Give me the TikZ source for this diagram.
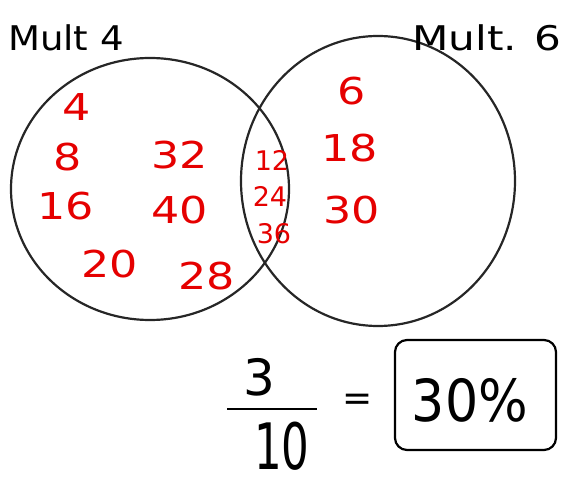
\documentclass[tikz,border=0pt]{standalone}
\usepackage{fontspec}
\setmainfont{DejaVu Sans}
\begin{document}
\begin{tikzpicture}[x=1pt,y=-1pt,
  ring/.style={draw=black!85, line width=2.2pt},
  redno/.style={text=red!90!black, font=\fontsize{37}{37}\selectfont\addfontfeature{FakeStretch=1.2}},
  smallno/.style={text=red!90!black, font=\fontsize{27}{27}\selectfont},
  lbl/.style={text=black, font=\fontsize{34}{34}\selectfont},
  big/.style={text=black, font=\fontsize{50}{50}\selectfont}]
\useasboundingbox (0,0) rectangle (566,484);
% circles
\draw[ring] (150,189) ellipse [x radius=139, y radius=131];
\draw[ring] (378,181) ellipse [x radius=137, y radius=145];
% labels
\node[lbl, font=\fontsize{34}{34}\selectfont\addfontfeature{FakeStretch=1.09}] (m4) at (66,38) {Mult 4};
\node[lbl, font=\fontsize{34}{34}\selectfont\addfontfeature{FakeStretch=1.24}] (m6) at (487,38) {Mult. 6};
% left only
\node[redno] (n4) at (77,107) {4};
\node[redno] (n8) at (68,157) {8};
\node[redno] (n16) at (66,206) {16};
\node[redno] (n32) at (180,155) {32};
\node[redno] (n40) at (180,210) {40};
\node[redno] (n20) at (110,264) {20};
\node[redno] (n28) at (207,276) {28};
% overlap
\node[smallno] (n12) at (272,160) {12};
\node[smallno] (n24) at (270,196) {24};
\node[smallno] (n36) at (274,234) {36};
% right only
\node[redno] (n6) at (352,91) {6};
\node[redno] (n18) at (350,148) {18};
\node[redno] (n30) at (352,210) {30};
% fraction
\node[big] (num) at (259,377) {3};
\draw[line width=2pt] (227,409) -- (317,409);
\node[big, font=\fontsize{64}{64}\selectfont, xscale=0.68] (den) at (282,446) {10};
\node[big, font=\fontsize{36}{36}\selectfont] (eq) at (358,402) {=};
\draw[line width=2.2pt, rounded corners=12pt] (395,340) rectangle (556,450);
\node[big, font=\fontsize{58}{58}\selectfont, xscale=0.9] (ans) at (470,400) {30\%};
\end{tikzpicture}
\end{document}
